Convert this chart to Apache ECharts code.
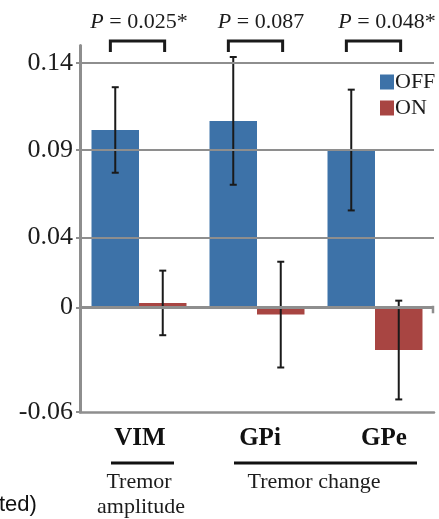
<!DOCTYPE html>
<html>
<head>
<meta charset="utf-8">
<script src="https://cdn.jsdelivr.net/npm/echarts@6/dist/echarts.min.js"></script>
<style>html,body{margin:0;padding:0;background:#fff;}#c{width:439px;height:519px;}</style>
</head>
<body>
<div id="c"></div>
<script>
const categories = ['VIM', 'GPi', 'GPe'];
const offValues = [0.1016, 0.1068, 0.0901];
const onValues = [0.0025, -0.0042, -0.0245];
const offErrors = [0.0245, 0.0366, 0.0346];
const onErrors = [0.0185, 0.0303, 0.0283];
const yTicks = [-0.06, 0, 0.04, 0.09, 0.14];
const gridValues = [0.04, 0.09, 0.14];
const pLabels = ['0.025*', '0.087', '0.048*'];

const BLUE = '#3d72a8';
const RED = '#a84542';
const GRAY = '#8e8e8e';
const SERIF = '"Liberation Serif", "Times New Roman", serif';
const INK = '#1c1c1c';
const GAP = 0.195;

const chart = echarts.init(document.getElementById('c'));

function errItem(params, api) {
  const idx = api.value(0), mean = api.value(1), err = api.value(2), side = api.value(3);
  const band = api.size([1, 0])[0];
  const off = band * (1 - GAP) / 4 * side;
  const hi = api.coord([idx, mean + err]);
  const lo = api.coord([idx, mean - err]);
  const x = hi[0] + off;
  const st = { stroke: '#1a1a1a', lineWidth: 2 };
  return { type: 'group', children: [
    { type: 'line', shape: { x1: x, y1: hi[1], x2: x, y2: lo[1] }, style: st },
    { type: 'line', shape: { x1: x - 3.5, y1: hi[1], x2: x + 3.5, y2: hi[1] }, style: st },
    { type: 'line', shape: { x1: x - 3.5, y1: lo[1], x2: x + 3.5, y2: lo[1] }, style: st }
  ]};
}

const labelShift = [0, 4, 12];
function bracketItem(params, api) {
  const idx = api.value(0);
  const c = api.coord([idx, 0.15]);
  const band = api.size([1, 0])[0];
  const half = band * 0.23;
  const cx = c[0] - 1.5;
  const yt = c[1] - 4.5, yb = c[1] + 6.5;
  const children = [
    { type: 'polyline', shape: { points: [[cx - half, yb], [cx - half, yt], [cx + half, yt], [cx + half, yb]] },
      style: { stroke: '#1a1a1a', lineWidth: 3, fill: null } },
    { type: 'text', x: c[0] + labelShift[idx], y: c[1] - 23,
      style: { text: '{i|P} = ' + pLabels[idx], align: 'center', verticalAlign: 'middle',
        font: '22px ' + SERIF, fill: INK,
        rich: { i: { fontStyle: 'italic', fontSize: 22, fontFamily: SERIF, fill: INK } } } }
  ];
  if (idx === categories.length - 1) {
    const z = api.coord([idx, 0]);
    const xr = z[0] + band / 2 - 1;
    children.push({ type: 'line', shape: { x1: xr, y1: z[1] - 1.5, x2: xr, y2: z[1] + 6 },
      style: { stroke: GRAY, lineWidth: 2.5 } });
  }
  return { type: 'group', children: children };
}

const shiftPad = [[0,0,0,2],[0,0,0,6],[0,0,0,18]];
const rich = {};
shiftPad.forEach((p, i) => { rich['c' + i] = { padding: p, fontFamily: SERIF, fontSize: 25, fontWeight: 'bold', color: '#111' }; });

chart.setOption({
  animation: false,
  backgroundColor: '#fff',
  grid: { left: 80, right: 5, top: 45.5, bottom: 107, containLabel: false },
  legend: {
    data: ['OFF', 'ON'], orient: 'vertical', left: 380, top: 71, padding: 0,
    itemWidth: 14, itemHeight: 15, itemGap: 4, icon: 'rect',
    textStyle: { fontFamily: SERIF, fontSize: 22, color: INK, lineHeight: 20, padding: [0, 0, 0, -4] }
  },
  xAxis: {
    type: 'category', data: categories,
    axisLine: { onZero: false, lineStyle: { color: GRAY, width: 2.5 } },
    axisTick: { show: false },
    axisLabel: { margin: 14, formatter: (v, i) => '{c' + i + '|' + v + '}', rich: rich }
  },
  yAxis: {
    type: 'value', min: -0.06, max: 0.15,
    axisLine: { show: true, lineStyle: { color: GRAY, width: 3 } },
    axisTick: { show: true, customValues: yTicks, length: 4, lineStyle: { color: GRAY, width: 2 } },
    axisLabel: { customValues: yTicks, margin: 7, fontFamily: SERIF, fontSize: 26, color: INK,
      formatter: v => (Math.abs(v) < 1e-9 ? '0' : String(+v.toFixed(2))) },
    splitLine: { show: false }
  },
  series: [
    { name: 'grid', type: 'line', data: [], z: 1, silent: true,
      markLine: { silent: true, symbol: 'none', label: { show: false },
        lineStyle: { color: GRAY, width: 2, type: 'solid' },
        data: gridValues.map(v => ({ yAxis: v })) } },
    { name: 'OFF', type: 'bar', data: offValues, z: 2, barGap: '0%', barCategoryGap: (GAP * 100) + '%',
      itemStyle: { color: BLUE } },
    { name: 'ON', type: 'bar', data: onValues, z: 2, barGap: '0%', barCategoryGap: (GAP * 100) + '%',
      itemStyle: { color: RED } },
    { name: 'zero', type: 'line', data: [], z: 3, silent: true,
      markLine: { silent: true, symbol: 'none', label: { show: false },
        lineStyle: { color: GRAY, width: 3, type: 'solid' }, data: [{ yAxis: 0 }] } },
    { name: 'errOFF', type: 'custom', z: 4, clip: false, silent: true, renderItem: errItem,
      encode: { x: 0, y: 1 }, data: categories.map((c, i) => [i, offValues[i], offErrors[i], -1]) },
    { name: 'errON', type: 'custom', z: 4, clip: false, silent: true, renderItem: errItem,
      encode: { x: 0, y: 1 }, data: categories.map((c, i) => [i, onValues[i], onErrors[i], 1]) },
    { name: 'brackets', type: 'custom', z: 4, clip: false, silent: true, renderItem: bracketItem,
      encode: { x: 0, y: 1 }, data: categories.map((c, i) => [i, 0.15]) }
  ],
  graphic: [
    { type: 'rect', shape: { x: 111, y: 461.5, width: 63, height: 3 }, style: { fill: '#111' } },
    { type: 'rect', shape: { x: 234, y: 461.5, width: 183, height: 3 }, style: { fill: '#111' } },
    { type: 'text', x: 139, y: 482, style: { text: 'Tremor', font: '22px ' + SERIF, fill: INK, align: 'center', verticalAlign: 'middle' } },
    { type: 'text', x: 141, y: 507, style: { text: 'amplitude', font: '22px ' + SERIF, fill: INK, align: 'center', verticalAlign: 'middle' } },
    { type: 'text', x: 314, y: 482, style: { text: 'Tremor change', font: '22px ' + SERIF, fill: INK, align: 'center', verticalAlign: 'middle' } },
    { type: 'text', x: -1, y: 505, style: { text: 'ted)', font: '22px "Liberation Sans", Arial, sans-serif', fill: '#111', align: 'left', verticalAlign: 'middle' } }
  ]
});
</script>
</body>
</html>
